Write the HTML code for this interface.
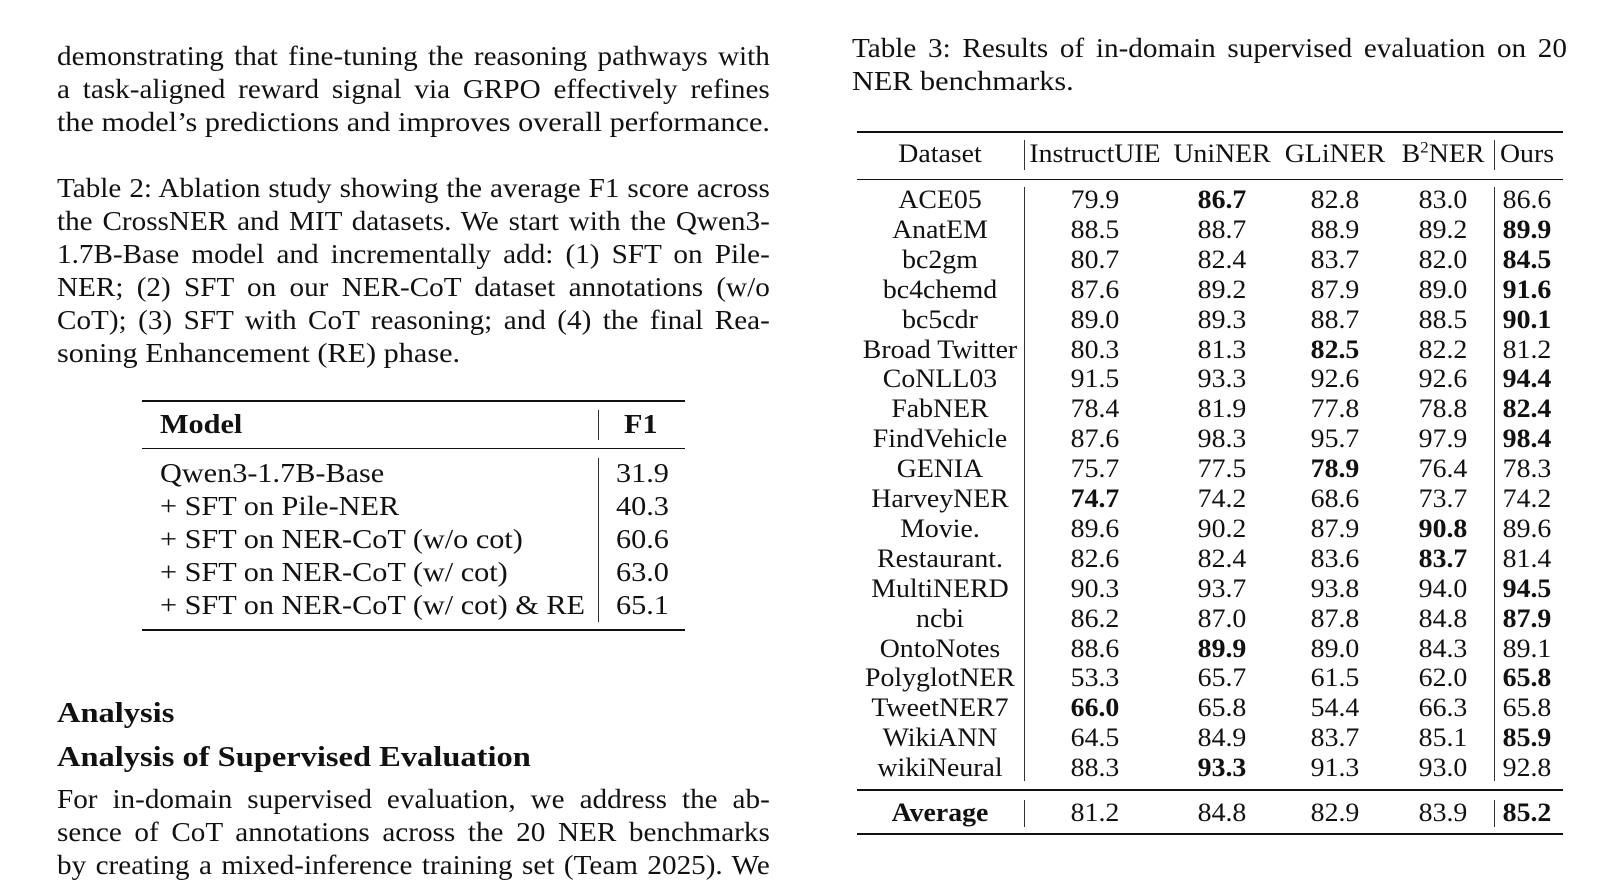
<!DOCTYPE html>
<html><head><meta charset="utf-8"><style>
body{margin:0;width:1614px;height:863px;overflow:hidden;background:#fff;font-family:"Liberation Serif",serif;color:#111;position:relative}
.l{position:absolute;font-size:27px;line-height:30px;white-space:nowrap;transform:scaleX(1.12);transform-origin:0 0}
.l.j{text-align:justify;text-align-last:justify;white-space:normal;transform:scaleX(1.08)}
.rule{position:absolute;background:#111}
.c{position:absolute;font-size:26px;line-height:30px;text-align:center;white-space:nowrap;transform:scaleX(1.07)}
.v{position:absolute;width:1px;background:#333}
b{font-weight:bold}
</style></head><body>
<div class="l j" style="left:57px;top:41px;width:660px">demonstrating that fine-tuning the reasoning pathways with</div>
<div class="l j" style="left:57px;top:74px;width:660px">a task-aligned reward signal via GRPO effectively refines</div>
<div class="l" style="left:57px;top:107px">the model’s predictions and improves overall performance.</div>

<div class="l j" style="left:57px;top:173px;width:660px">Table 2: Ablation study showing the average F1 score across</div>
<div class="l j" style="left:57px;top:206px;width:660px">the CrossNER and MIT datasets. We start with the Qwen3-</div>
<div class="l j" style="left:57px;top:239px;width:660px">1.7B-Base model and incrementally add: (1) SFT on Pile-</div>
<div class="l j" style="left:57px;top:272px;width:660px">NER; (2) SFT on our NER-CoT dataset annotations (w/o</div>
<div class="l j" style="left:57px;top:305px;width:660px">CoT); (3) SFT with CoT reasoning; and (4) the final Rea-</div>
<div class="l" style="left:57px;top:338px">soning Enhancement (RE) phase.</div>

<div class="rule" style="left:142px;top:400px;width:543px;height:2px"></div>
<div class="rule" style="left:142px;top:448px;width:543px;height:1px"></div>
<div class="rule" style="left:142px;top:629px;width:543px;height:2px"></div>
<div class="v" style="left:598px;top:410px;height:30px"></div>
<div class="v" style="left:598px;top:458px;height:164px"></div>
<div class="l" style="left:160px;top:409px"><b>Model</b></div>
<div class="l" style="left:624px;top:409px"><b>F1</b></div>
<div class="l" style="left:160px;top:458px">Qwen3-1.7B-Base</div>
<div class="l" style="left:160px;top:491px">+ SFT on Pile-NER</div>
<div class="l" style="left:160px;top:524px">+ SFT on NER-CoT (w/o cot)</div>
<div class="l" style="left:160px;top:557px">+ SFT on NER-CoT (w/ cot)</div>
<div class="l" style="left:160px;top:590px">+ SFT on NER-CoT (w/ cot) &amp; RE</div>
<div class="l" style="left:616px;top:458px">31.9</div>
<div class="l" style="left:616px;top:491px">40.3</div>
<div class="l" style="left:616px;top:524px">60.6</div>
<div class="l" style="left:616px;top:557px">63.0</div>
<div class="l" style="left:616px;top:590px">65.1</div>

<div class="l" style="left:57px;top:698px;font-size:29px"><b>Analysis</b></div>
<div class="l" style="left:57px;top:742px;font-size:29px"><b>Analysis of Supervised Evaluation</b></div>
<div class="l j" style="left:57px;top:784px;width:660px">For in-domain supervised evaluation, we address the ab-</div>
<div class="l j" style="left:57px;top:817px;width:660px">sence of CoT annotations across the 20 NER benchmarks</div>
<div class="l j" style="left:57px;top:850px;width:660px">by creating a mixed-inference training set (Team 2025). We</div>

<div class="l j" style="left:852px;top:33px;width:662px">Table 3: Results of in-domain supervised evaluation on 20</div>
<div class="l" style="left:852px;top:66px">NER benchmarks.</div>

<div class="rule" style="left:857px;top:131px;width:706px;height:2px"></div>
<div class="rule" style="left:857px;top:179px;width:706px;height:1px"></div>
<div class="rule" style="left:857px;top:789px;width:706px;height:2px"></div>
<div class="rule" style="left:857px;top:833px;width:706px;height:2px"></div>
<div class="v" style="left:1024px;top:140px;height:30px"></div>
<div class="v" style="left:1494px;top:140px;height:30px"></div>
<div class="v" style="left:1024px;top:187px;height:594px"></div>
<div class="v" style="left:1494px;top:187px;height:594px"></div>
<div class="v" style="left:1024px;top:800px;height:27px"></div>
<div class="v" style="left:1494px;top:800px;height:27px"></div>
<div id="t3"></div>
<script>
var rows=[["Dataset","InstructUIE","UniNER","GLiNER","B<sup style='font-size:16px;line-height:0'>2</sup>NER","Ours"],
["ACE05","79.9","<b>86.7</b>","82.8","83.0","86.6"],
["AnatEM","88.5","88.7","88.9","89.2","<b>89.9</b>"],
["bc2gm","80.7","82.4","83.7","82.0","<b>84.5</b>"],
["bc4chemd","87.6","89.2","87.9","89.0","<b>91.6</b>"],
["bc5cdr","89.0","89.3","88.7","88.5","<b>90.1</b>"],
["Broad Twitter","80.3","81.3","<b>82.5</b>","82.2","81.2"],
["CoNLL03","91.5","93.3","92.6","92.6","<b>94.4</b>"],
["FabNER","78.4","81.9","77.8","78.8","<b>82.4</b>"],
["FindVehicle","87.6","98.3","95.7","97.9","<b>98.4</b>"],
["GENIA","75.7","77.5","<b>78.9</b>","76.4","78.3"],
["HarveyNER","<b>74.7</b>","74.2","68.6","73.7","74.2"],
["Movie.","89.6","90.2","87.9","<b>90.8</b>","89.6"],
["Restaurant.","82.6","82.4","83.6","<b>83.7</b>","81.4"],
["MultiNERD","90.3","93.7","93.8","94.0","<b>94.5</b>"],
["ncbi","86.2","87.0","87.8","84.8","<b>87.9</b>"],
["OntoNotes","88.6","<b>89.9</b>","89.0","84.3","89.1"],
["PolyglotNER","53.3","65.7","61.5","62.0","<b>65.8</b>"],
["TweetNER7","<b>66.0</b>","65.8","54.4","66.3","65.8"],
["WikiANN","64.5","84.9","83.7","85.1","<b>85.9</b>"],
["wikiNeural","88.3","<b>93.3</b>","91.3","93.0","92.8"],
["<b>Average</b>","81.2","84.8","82.9","83.9","<b>85.2</b>"]];
var cx=[940,1095,1222,1335,1443,1527];
var h="";
for(var i=0;i<rows.length;i++){
 var y=i==0?154:(i==21?813:200+(i-1)*29.9);
 for(var j=0;j<6;j++){
  h+='<div class="c" style="left:'+(cx[j]-100)+'px;width:200px;top:'+(y-15)+'px">'+rows[i][j]+'</div>';
 }
}
document.getElementById("t3").innerHTML=h;
</script>
</body></html>
